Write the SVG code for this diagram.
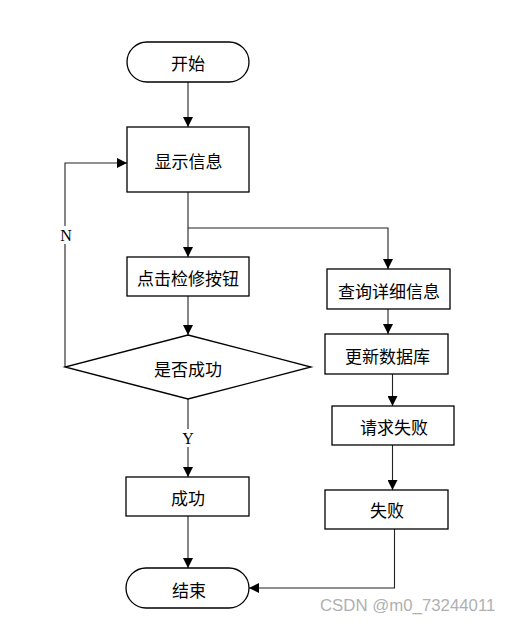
<svg xmlns="http://www.w3.org/2000/svg" width="511" height="623" viewBox="0 0 511 623">
<defs>
<style>
.box{fill:#fff;stroke:#000;stroke-width:1.3}
.t{font-family:"Noto Sans CJK SC","Liberation Sans",sans-serif;font-size:17px;fill:#000;text-anchor:middle;dominant-baseline:central}
.lbl{font-family:"Liberation Serif",serif;font-size:16px;fill:#000;text-anchor:middle;dominant-baseline:central}
.c{fill:none;stroke:#222;stroke-width:1.1}
.wm{font-family:"Liberation Sans",sans-serif;font-size:16.8px;fill:#b0b0b0}
</style>
<marker id="a" markerWidth="10" markerHeight="10" refX="10" refY="5" orient="auto" markerUnits="userSpaceOnUse">
<path d="M0,0 L10,5 L0,10 Z" fill="#000"/>
</marker>
</defs>
<rect width="511" height="623" fill="#fff"/>
<g id="connectors">
<path class="c" d="M188,82 V127" marker-end="url(#a)"/>
<path class="c" d="M188,192 V257" marker-end="url(#a)"/>
<path class="c" d="M188,228 H388 V269" marker-end="url(#a)"/>
<path class="c" d="M188,296 V335" marker-end="url(#a)"/>
<path class="c" d="M65,367 V163 H127" marker-end="url(#a)"/>
<path class="c" d="M188,399 V477" marker-end="url(#a)"/>
<path class="c" d="M188,516 V568" marker-end="url(#a)"/>
<path class="c" d="M388,309 V334" marker-end="url(#a)"/>
<path class="c" d="M392.5,374 V406" marker-end="url(#a)"/>
<path class="c" d="M392.5,445 V490" marker-end="url(#a)"/>
<path class="c" d="M394.5,529 V588 H249" marker-end="url(#a)"/>
<rect x="57" y="226" width="18" height="18" fill="#fff"/>
<text class="lbl" x="66" y="235">N</text>
<rect x="180" y="429" width="18" height="18" fill="#fff"/>
<text class="lbl" x="188" y="438">Y</text>
</g>
<g id="start"><rect class="box" x="127" y="42" width="122" height="40" rx="20"/><text class="t" x="188" y="62">开始</text></g>
<g id="show"><rect class="box" x="127" y="127" width="122" height="65"/><text class="t" x="188.5" y="160.5">显示信息</text></g>
<g id="click"><rect class="box" x="127" y="257" width="122" height="39"/><text class="t" x="188" y="277.5">点击检修按钮</text></g>
<g id="decide"><path class="box" d="M188,335 L311,367 L188,399 L65,367 Z"/><text class="t" x="188" y="368">是否成功</text></g>
<g id="success"><rect class="box" x="126" y="477" width="123" height="39"/><text class="t" x="188" y="497">成功</text></g>
<g id="end"><rect class="box" x="126" y="568" width="123" height="40" rx="20"/><text class="t" x="189" y="589">结束</text></g>
<g id="query"><rect class="box" x="327" y="269" width="123" height="40"/><text class="t" x="389" y="290">查询详细信息</text></g>
<g id="update"><rect class="box" x="325" y="334" width="123" height="40"/><text class="t" x="387.5" y="355">更新数据库</text></g>
<g id="reqfail"><rect class="box" x="332" y="406" width="122" height="39"/><text class="t" x="394" y="426">请求失败</text></g>
<g id="fail"><rect class="box" x="325" y="490" width="123" height="39"/><text class="t" x="387" y="509.5">失败</text></g>
<text class="wm" x="320" y="611">CSDN @m0_73244011</text>
</svg>
